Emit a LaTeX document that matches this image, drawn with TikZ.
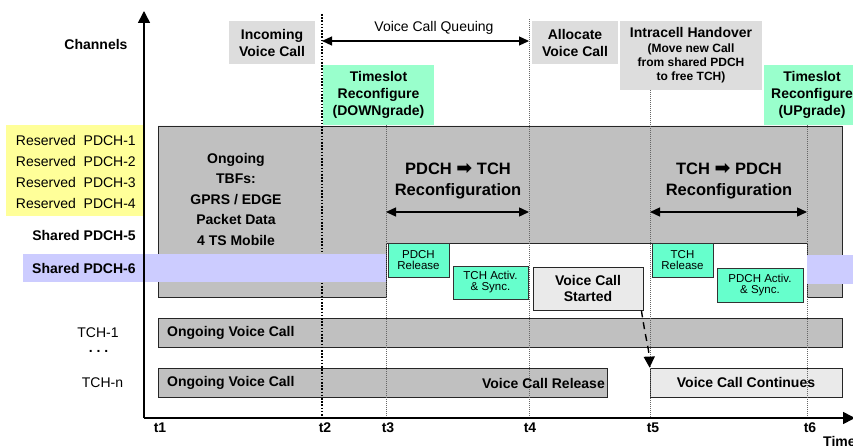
\documentclass[tikz,border=0pt]{standalone}
\usepackage{fontspec}
\setmainfont{Liberation Sans}
\newfontfamily\dvfont{DejaVu Sans}
\usetikzlibrary{arrows.meta}
\definecolor{midgray}{RGB}{192,192,192}
\definecolor{lblgray}{RGB}{221,221,221}
\definecolor{lightbox}{RGB}{234,234,234}
\definecolor{topgreen}{RGB}{153,255,204}
\definecolor{smallgreen}{RGB}{102,255,204}
\definecolor{resyellow}{RGB}{255,255,153}
\definecolor{lavender}{RGB}{204,204,255}
\newcommand{\heavyarrow}{{\dvfont\fontsize{19}{17}\selectfont ➡}}
\begin{document}
\begin{tikzpicture}[x=1pt,y=-1pt,
  bold/.style={font=\fontsize{14}{17}\selectfont\bfseries, inner sep=0, align=center},
  plain/.style={font=\fontsize{14}{17}\selectfont, inner sep=0, align=center},
  topbox/.style={fill=lblgray, inner sep=0, font=\fontsize{14}{17}\selectfont\bfseries, align=center},
  greenbox/.style={fill=topgreen, inner sep=0, font=\fontsize{14}{17}\selectfont\bfseries, align=center},
  smallbox/.style={draw=black!80, line width=0.8pt, fill=smallgreen, inner sep=0, font=\fontsize{11.5}{11}\selectfont, align=center},
  rowbox/.style={draw=black!85, line width=0.8pt, fill=midgray, inner sep=0, minimum height=29},
  lightrow/.style={draw=black!85, line width=0.8pt, fill=lightbox, inner sep=0, font=\fontsize{14}{16}\selectfont\bfseries, align=center},
  tline/.style={black!60, line width=0.6pt, dash pattern=on 1pt off 1pt},
  ttline/.style={black, line width=1.6pt, dash pattern=on 1.6pt off 1.6pt},
  darr/.style={line width=1.4pt, {Triangle[length=10pt,width=9pt]}-{Triangle[length=10pt,width=9pt]}},
  axis/.style={line width=1.6pt, -{Triangle[length=12pt,width=12pt]}}
]
\clip (0,0) rectangle (853,446);
\fill[white] (0,0) rectangle (853,446);

% coordinates of time lines
\coordinate (O) at (144,418);
\coordinate (Ytop) at (144,11);
\coordinate (Xend) at (855,418);
\coordinate (t2a) at (322,14);  \coordinate (t2b) at (322,418);
\coordinate (t3a) at (386,125); \coordinate (t3b) at (386,418);
\coordinate (t4a) at (529,19);  \coordinate (t4b) at (529,418);
\coordinate (t5a) at (650,90);  \coordinate (t5b) at (650,418);
\coordinate (t6a) at (807,125); \coordinate (t6b) at (807,418);

% top boxes
\node[topbox, minimum width=86, minimum height=43] (inc) at (272,42.5) {Incoming\\Voice Call};
\node[topbox, minimum width=86, minimum height=43] (alloc) at (575,42.5) {Allocate\\Voice Call};
\node[topbox, minimum width=142, minimum height=69, font=\fontsize{12}{14}\selectfont\bfseries] (intra) at (691,55.5)
  {{\fontsize{14}{15}\selectfont Intracell Handover}\\[1pt](Move new Call\\from shared PDCH\\to free TCH)};
\node[greenbox, minimum width=111, minimum height=60] (down) at (378.5,95) {Timeslot\\Reconfigure\\(DOWNgrade)};
\node[greenbox, minimum width=96, minimum height=60] (up) at (812,95) {Timeslot\\Reconfigure\\(UPgrade)};

% big gray area
\draw[fill=midgray, draw=black!85, line width=0.8pt]
  (158,126) -- (842,126) -- (842,297) -- (807,297) -- (807,243) -- (386,243) -- (386,297) -- (158,297) -- cycle;

% yellow reserved
\node[fill=resyellow, minimum width=139, minimum height=91, inner sep=0] (yel) at (75.5,170.5) {};
\node[plain, align=right, anchor=east, font=\fontsize{14}{21}\selectfont] (res) at (136,172)
  {Reserved\ \ PDCH-1\\Reserved\ \ PDCH-2\\Reserved\ \ PDCH-3\\Reserved\ \ PDCH-4};
\node[bold, anchor=east] (s5) at (136,235) {Shared PDCH-5};

% rows
\node[rowbox, minimum width=684] (tch1) at (500,332.5) {};
\node[rowbox, minimum width=449] (tchn) at (382.5,382.5) {};
\node[lightrow, minimum width=192, minimum height=29] (vcc) at (746,382.5) {Voice Call Continues};

% time lines
\draw[ttline] (t2a) -- (t2b);
\draw[tline] (t3a) -- (t3b);
\draw[tline] (t4a) -- (t4b);
\draw[tline] (t5a) -- (t5b);
\draw[tline] (t6a) -- (t6b);

% lavender bars
\node[fill=lavender, minimum width=363, minimum height=28, inner sep=0, anchor=west] (lav1) at (23,268) {};
\node[fill=lavender, minimum width=60, minimum height=29, inner sep=0, anchor=west] (lav2) at (807,269.5) {};
\node[bold, anchor=west] (s6) at (32,268) {Shared PDCH-6};

% small boxes
\node[smallbox, minimum width=61, minimum height=34] (pr) at (418.5,260) {PDCH\\Release};
\node[smallbox, minimum width=75, minimum height=33] (ta) at (490.5,282.5) {TCH Activ.\\\& Sync.};
\node[smallbox, minimum width=61, minimum height=34] (tr) at (682.5,260) {TCH\\Release};
\node[smallbox, minimum width=86, minimum height=34] (pa) at (760,285) {PDCH Activ.\\\& Sync.};
\node[lightrow, minimum width=110, minimum height=43] (vcs) at (588,288.5) {Voice Call\\Started};

% texts in gray area
\node[bold, font=\fontsize{14}{20.5}\selectfont\bfseries] (ongo) at (236,199) {Ongoing\\TBFs:\\GPRS / EDGE\\Packet Data\\4 TS Mobile};
\node[bold, font=\fontsize{16.5}{20.5}\selectfont\bfseries] (rc1) at (458,181) {PDCH \heavyarrow{} TCH\\Reconfiguration};
\node[bold, font=\fontsize{16.5}{20.5}\selectfont\bfseries] (rc2) at (729,181) {TCH \heavyarrow{} PDCH\\Reconfiguration};
\coordinate (r1a) at (386,212); \coordinate (r1b) at (529,212);
\coordinate (r2a) at (650,212); \coordinate (r2b) at (807,212);
\draw[darr] (r1a) -- (r1b);
\draw[darr] (r2a) -- (r2b);

% row texts
\node[bold, anchor=west] (ov1) at (167,333) {Ongoing Voice Call};
\node[bold, anchor=west] (ov2) at (167,383) {Ongoing Voice Call};
\node[bold, anchor=east] (vcr) at (605,383) {Voice Call Release};

% left labels
\node[bold] (ch) at (96,44) {Channels};
\node[plain] (l1) at (98,333) {TCH-1};
\node[bold] (dots) at (98.5,351) {.\ .\ .};
\node[plain] (ln) at (102.5,383) {TCH-n};

% queuing
\node[plain] (q) at (434,28) {Voice Call Queuing};
\coordinate (qa) at (322,41); \coordinate (qb) at (529,41);
\draw[darr, line width=1.2pt] (qa) -- (qb);

% dashed arrow
\draw[line width=1.4pt, dash pattern=on 7pt off 5pt, -{Triangle[length=11pt,width=11pt]}]
  ([xshift=-2pt]vcs.south east) .. controls (645,335) and (649,350) .. (vcc.north west);

% axes
\draw[axis] (O) -- (Ytop);
\draw[axis] (O) -- (Xend);

% time labels
\node[bold] (lt1) at (160,428) {t1};
\node[bold] (lt2) at (325,428) {t2};
\node[bold] (lt3) at (388,428) {t3};
\node[bold] (lt4) at (530,428) {t4};
\node[bold] (lt5) at (653,428) {t5};
\node[bold] (lt6) at (810,428) {t6};
\node[bold, anchor=west] (time) at (823,441) {Time};
\end{tikzpicture}
\end{document}
